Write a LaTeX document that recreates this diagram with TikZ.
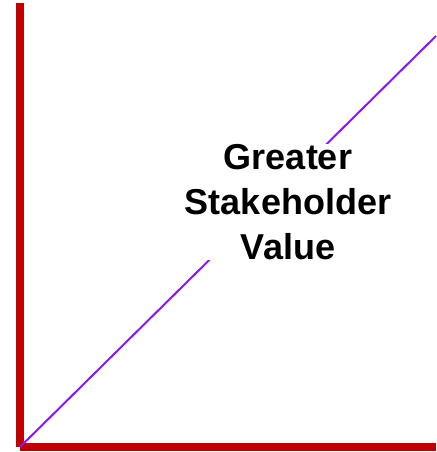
\documentclass[tikz,border=0pt]{standalone}
\usepackage{fontspec}
\setmainfont{Liberation Sans}
\definecolor{axisred}{RGB}{192,0,0}
\definecolor{trendviolet}{RGB}{136,26,240}
\begin{document}
\begin{tikzpicture}[x=1pt,y=1pt,
  axis/.style={draw=axisred,line width=8pt},
  trend/.style={draw=trendviolet,line width=2pt},
  caption/.style={fill=white,inner sep=0pt,align=center,text depth=0pt,
    font=\fontsize{36}{45}\selectfont\bfseries}]
\useasboundingbox (0,0) rectangle (436,452);
% axes
\coordinate (o) at (20,5);
\coordinate (ytop) at (20,449);
\coordinate (xend) at (436,5);
\coordinate (far) at (436,416);
\draw[axis] (ytop) -- (o);
\draw[axis] (o) -- (xend);
% rising line, label sits over it
\draw[trend] (o) -- (far);
\node[caption] (value) at (288,250) {Greater\\Stakeholder\\Value};
\end{tikzpicture}
\end{document}
